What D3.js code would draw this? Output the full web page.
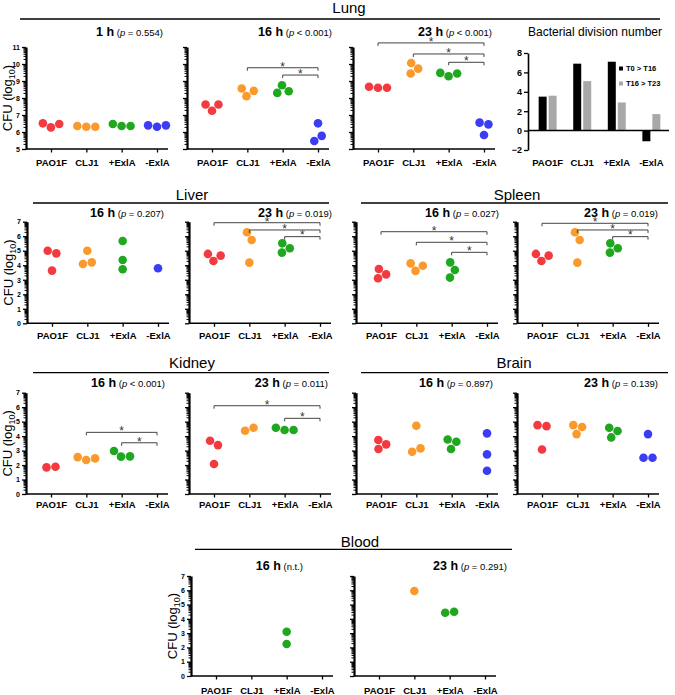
<!DOCTYPE html>
<html>
<head>
<meta charset="utf-8">
<script src="https://cdn.jsdelivr.net/npm/d3@7"></script>
<style>
body { margin: 0; background: #fff; }
svg text { font-family: "Liberation Sans", Arial, sans-serif; }
</style>
</head>
<body>
<svg id="chart" width="675" height="695"></svg>
<script>
const groups = ["PAO1F", "CLJ1", "+ExlA", "-ExlA"];
const groupColors = ["#f23a40", "#fb9a2c", "#1fa71f", "#3c3cf4"];

// CFU (log10), one list per group
const lung1h = [[6.51, 6.27, 6.47], [6.35, 6.31, 6.31], [6.47, 6.35, 6.35], [6.39, 6.31, 6.39]];
const lung16h = [[7.62, 7.25, 7.62], [8.56, 8.11, 8.42], [8.75, 8.30, 8.40], [5.47, 6.51, 5.77]];
const lung23h = [[8.66, 8.60, 8.60], [9.44, 10.06, 9.73], [9.48, 9.28, 9.44], [6.55, 5.82, 6.45]];
const liver16h = [[5.00, 3.63, 4.82], [4.09, 5.00, 4.20], [5.67, 4.36, 3.72], [3.79]];
const liver23h = [[4.78, 4.29, 4.66], [6.27, 4.18, 5.74], [4.87, 5.51, 5.17], []];
const spleen16h = [[3.10, 3.74, 3.37], [4.13, 3.61, 3.97], [3.15, 4.20, 3.67], []];
const spleen23h = [[4.78, 4.29, 4.66], [6.27, 4.18, 5.74], [4.87, 5.51, 5.17], []];
const kidney16h = [[1.84, 1.88], [2.55, 2.35, 2.46], [2.97, 2.58, 2.60], []];
const kidney23h = [[3.68, 2.07, 3.38], [4.37, 4.58], [4.58, 4.42, 4.42], []];
const brain16h = [[3.11, 3.73, 3.43], [2.92, 4.72, 3.15], [3.11, 3.77, 3.61], [4.19, 2.74, 1.61]];
const brain23h = [[4.76, 3.08, 4.69], [4.14, 4.76, 4.63], [3.91, 4.58, 4.35], [2.51, 4.14, 2.51]];
const blood16h = [[], [], [3.10, 2.24], []];
const blood23h = [[], [5.95], [4.43, 4.50], []];

// significance brackets: [group compared with -ExlA, bracket level in log10 units]
const lung16hSig = [[1, 9.78], [2, 9.35]];
const lung23hSig = [[0, 11.24], [1, 10.59], [2, 10.10]];
const liver23hSig = [[0, 6.93], [1, 6.43], [2, 5.97]];
const spleen16hSig = [[0, 6.31], [1, 5.58], [2, 4.89]];
const spleen23hSig = [[0, 6.89], [1, 6.43], [2, 5.97]];
const kidney16hSig = [[1, 4.26], [2, 3.54]];
const kidney23hSig = [[0, 6.10], [2, 5.23]];

const lungTicks = [5, 6, 7, 8, 9, 10, 11];
const organTicks = [0, 1, 2, 3, 4, 5, 6, 7];

const divisionSeries = ["T0 > T16", "T16 > T23"];
const divT0T16 = [3.5, 6.9, 7.1, -1.1];
const divT16T23 = [3.6, 5.1, 2.9, 1.7];
const divColors = ["#000000", "#a8a8a8"];
const divTicks = [-2, 0, 2, 4, 6, 8];

const svg = d3.select("#chart");
const pointR = 4.3;

const rows = {
  lung: { top: 47, bottom: 149, domain: [5, 11], ticks: lungTicks, titleY: 36, labelY: 165.5 },
  liver: { top: 221.7, bottom: 323.3, domain: [0, 7], ticks: organTicks, titleY: 216.5, labelY: 339.5 },
  kidney: { top: 392.7, bottom: 494, domain: [0, 7], ticks: organTicks, titleY: 387, labelY: 508 },
  blood: { top: 576, bottom: 676, domain: [0, 7], ticks: organTicks, titleY: 570, labelY: 693.5 }
};

const sections = [
  { name: "Lung", x: 349, y: 12.5, lineY: 19, x1: 20, x2: 660 },
  { name: "Liver", x: 192, y: 199.5, lineY: 203, x1: 33, x2: 329 },
  { name: "Spleen", x: 517, y: 199.5, lineY: 203, x1: 361, x2: 668 },
  { name: "Kidney", x: 192, y: 368, lineY: 372.7, x1: 33, x2: 329 },
  { name: "Brain", x: 514, y: 368, lineY: 372.7, x1: 361, x2: 668 },
  { name: "Blood", x: 360, y: 546.5, lineY: 549.3, x1: 195, x2: 512 }
];

const panels = [
  { row: "lung", ax: 26, time: "1 h", p: "= 0.554", data: lung1h, sig: [], labels: true, titleEnd: 163 },
  { row: "lung", ax: 187, time: "16 h", p: "< 0.001", data: lung16h, sig: lung16hSig, labels: false, titleEnd: 332 },
  { row: "lung", ax: 353, time: "23 h", p: "< 0.001", data: lung23h, sig: lung23hSig, labels: false, titleEnd: 492 },
  { row: "liver", ax: 27, time: "16 h", p: "= 0.207", data: liver16h, sig: [], labels: true, titleEnd: 164 },
  { row: "liver", ax: 189, time: "23 h", p: "= 0.019", data: liver23h, sig: liver23hSig, labels: false, titleEnd: 332 },
  { row: "liver", ax: 356, time: "16 h", p: "= 0.027", data: spleen16h, sig: spleen16hSig, labels: false, titleEnd: 499 },
  { row: "liver", ax: 517, time: "23 h", p: "= 0.019", data: spleen23h, sig: spleen23hSig, labels: false, titleEnd: 658 },
  { row: "kidney", ax: 26, time: "16 h", p: "< 0.001", data: kidney16h, sig: kidney16hSig, labels: true, titleEnd: 165 },
  { row: "kidney", ax: 189, time: "23 h", p: "= 0.011", data: kidney23h, sig: kidney23hSig, labels: false, titleEnd: 328 },
  { row: "kidney", ax: 356, time: "16 h", p: "= 0.897", data: brain16h, sig: [], labels: false, titleEnd: 493 },
  { row: "kidney", ax: 517, time: "23 h", p: "= 0.139", data: brain23h, sig: [], labels: false, titleEnd: 658 },
  { row: "blood", ax: 191, time: "16 h", p: null, data: blood16h, sig: [], labels: true, titleEnd: 303 },
  { row: "blood", ax: 354, time: "23 h", p: "= 0.291", data: blood23h, sig: [], labels: false, titleEnd: 507 }
];

function minorTicks(domain) {
  let out = [];
  for (let n = domain[0]; n < domain[1]; n++) {
    for (let k = 2; k < 10; k++) out.push(n + Math.log10(k));
  }
  return out;
}

function swarm(values, cx, y) {
  const nodes = values.map((v, i) => ({ x: cx + (i - (values.length - 1) / 2) * 6, y: y(v), fy: y(v) }));
  const sim = d3.forceSimulation(nodes)
    .force("x", d3.forceX(cx).strength(0.1))
    .force("collide", d3.forceCollide(pointR + 0.2).iterations(3))
    .stop();
  for (let i = 0; i < 300; i++) sim.tick();
  return nodes;
}

function drawSections() {
  sections.forEach(s => {
    svg.append("text").attr("x", s.x).attr("y", s.y).attr("text-anchor", "middle")
      .attr("font-size", 15).text(s.name);
    svg.append("line").attr("x1", s.x1).attr("x2", s.x2).attr("y1", s.lineY).attr("y2", s.lineY)
      .attr("stroke", "#000").attr("stroke-width", 1.3);
  });
}

function drawPanel(p) {
  const row = rows[p.row];
  const y = d3.scaleLinear().domain(row.domain).range([row.bottom, row.top]);
  const x = d3.scalePoint().domain(groups).range([p.ax + 25, p.ax + 131]);
  const g = svg.append("g");

  // title
  const t = g.append("text").attr("x", p.titleEnd).attr("y", row.titleY).attr("text-anchor", "end");
  t.append("tspan").attr("font-size", 12.5).attr("font-weight", "bold").text(p.time);
  if (p.p) {
    t.append("tspan").attr("font-size", 9.5).text(" (");
    t.append("tspan").attr("font-size", 9.5).attr("font-style", "italic").text("p");
    t.append("tspan").attr("font-size", 9.5).text(" " + p.p + ")");
  } else {
    t.append("tspan").attr("font-size", 9.5).text(" (n.t.)");
  }

  // x axis
  g.append("line").attr("x1", p.ax).attr("x2", p.ax + 142).attr("y1", row.bottom).attr("y2", row.bottom)
    .attr("stroke", "#000").attr("stroke-width", 1.6);
  const xg = g.append("g").attr("transform", `translate(0,${row.bottom})`)
    .call(d3.axisBottom(x).tickSize(3.5).tickSizeOuter(0));
  xg.select(".domain").remove();
  xg.selectAll(".tick line").attr("stroke-width", 1.3);
  xg.selectAll("text").attr("y", row.labelY - row.bottom).attr("dy", 0)
    .attr("font-size", 9.5).attr("font-weight", "bold").attr("fill", "#000")
    .style("font-family", '"Liberation Sans", Arial, sans-serif');

  // y axis with log minor ticks
  const yg = g.append("g").attr("transform", `translate(${p.ax},0)`)
    .call(d3.axisLeft(y).tickValues(row.ticks).tickSize(4).tickSizeOuter(0).tickPadding(2)
      .tickFormat(p.labels ? d3.format("d") : ""));
  yg.select(".domain").attr("stroke-width", 2.2);
  yg.selectAll(".tick line").attr("stroke-width", 1.3);
  yg.selectAll("text").attr("font-size", 7).attr("font-weight", "bold").attr("fill", "#000")
    .style("font-family", '"Liberation Sans", Arial, sans-serif');
  const mg = g.append("g").attr("transform", `translate(${p.ax},0)`)
    .call(d3.axisLeft(y).tickValues(minorTicks(row.domain)).tickSize(2.5).tickFormat(""));
  mg.select(".domain").remove();
  mg.selectAll(".tick line").attr("stroke-width", 1);

  if (p.labels) {
    const cy = (row.top + row.bottom) / 2;
    const lab = g.append("text").attr("transform", `translate(${p.ax - 14.5},${cy}) rotate(-90)`)
      .attr("text-anchor", "middle").attr("font-size", 13);
    lab.append("tspan").text("CFU (log");
    lab.append("tspan").attr("font-size", 9).attr("dy", 3.5).text("10");
    lab.append("tspan").attr("dy", -3.5).text(")");
  }

  // points
  p.data.forEach((vals, gi) => {
    const nodes = swarm(vals, x(groups[gi]), y);
    g.selectAll(null).data(nodes).enter().append("circle")
      .attr("cx", d => d.x).attr("cy", d => d.y).attr("r", pointR)
      .attr("fill", groupColors[gi]);
  });

  // brackets
  p.sig.forEach(s => {
    const x1 = x(groups[s[0]]), x2 = x(groups[3]), yy = y(s[1]);
    g.append("path").attr("d", `M${x1},${yy + 3}V${yy}H${x2}V${yy + 3}`)
      .attr("fill", "none").attr("stroke", "#444").attr("stroke-width", 1);
    g.append("text").attr("x", (x1 + x2) / 2).attr("y", yy + 2.8).attr("text-anchor", "middle")
      .attr("font-size", 12).attr("fill", "#333").text("*");
  });
}

function drawDivision() {
  const by = d3.scaleLinear().domain([-2, 8]).range([150, 53]);
  const bx = d3.scaleBand().domain(groups).range([530, 669]).paddingInner(0.48).paddingOuter(0.25);
  const bs = d3.scaleBand().domain(divisionSeries).range([0, bx.bandwidth()]).paddingInner(0.2);
  const series = [divT0T16, divT16T23];
  const g = svg.append("g");

  g.append("text").attr("x", 595).attr("y", 36).attr("text-anchor", "middle")
    .attr("font-size", 12).text("Bacterial division number");

  series.forEach((vals, si) => {
    g.selectAll(null).data(vals).enter().append("rect")
      .attr("x", (d, i) => bx(groups[i]) + bs(divisionSeries[si]))
      .attr("y", d => by(Math.max(0, d)))
      .attr("width", bs.bandwidth())
      .attr("height", d => Math.abs(by(d) - by(0)))
      .attr("fill", divColors[si]);
  });

  g.append("line").attr("x1", 528).attr("x2", 669).attr("y1", by(0)).attr("y2", by(0))
    .attr("stroke", "#000").attr("stroke-width", 1.5);
  const yg = g.append("g").attr("transform", "translate(528,0)")
    .call(d3.axisLeft(by).tickValues(divTicks).tickSize(4).tickSizeOuter(0).tickPadding(2));
  yg.select(".domain").attr("stroke-width", 1.6);
  yg.selectAll(".tick line").attr("stroke-width", 1.3);
  yg.selectAll("text").attr("font-size", 9).attr("font-weight", "bold").attr("fill", "#000")
    .style("font-family", '"Liberation Sans", Arial, sans-serif');

  g.selectAll(null).data(groups).enter().append("text")
    .attr("x", d => bx(d) + bx.bandwidth() / 2).attr("y", 165.5).attr("text-anchor", "middle")
    .attr("font-size", 9.5).attr("font-weight", "bold").text(d => d);

  divisionSeries.forEach((s, i) => {
    g.append("rect").attr("x", 619).attr("y", 66.5 + i * 15).attr("width", 4).attr("height", 4)
      .attr("fill", divColors[i]);
    g.append("text").attr("x", 626).attr("y", 71 + i * 15).attr("font-size", 7.5)
      .attr("font-weight", "bold").text(s);
  });
}

drawSections();
panels.forEach(drawPanel);
drawDivision();
</script>
</body>
</html>
